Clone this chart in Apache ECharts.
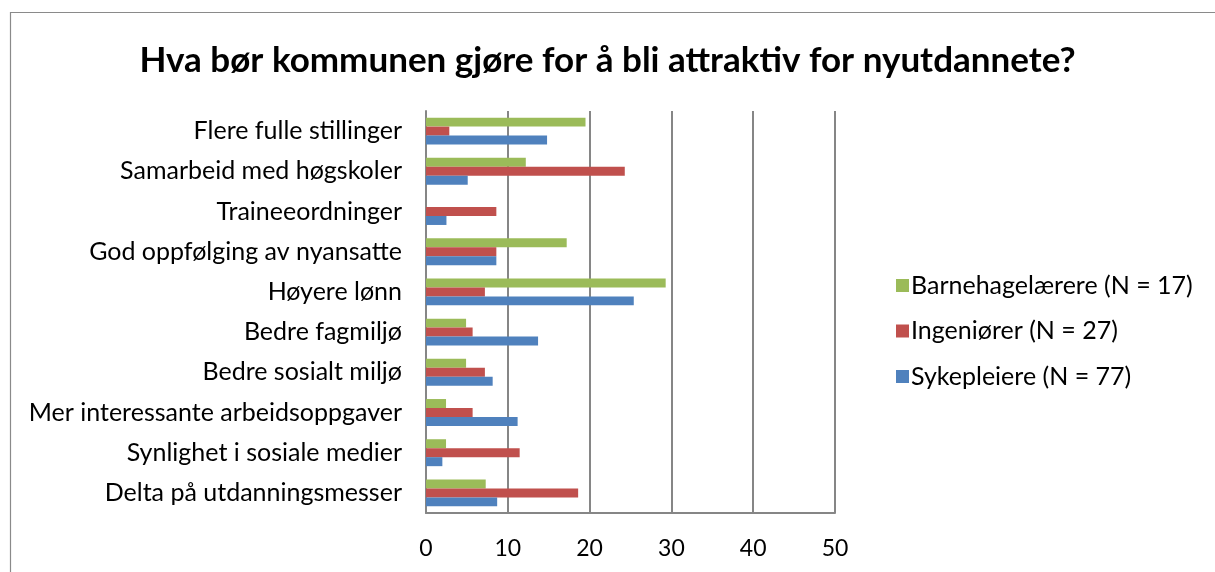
<!DOCTYPE html>
<html>
<head>
<meta charset="utf-8">
<script src="https://cdn.jsdelivr.net/npm/echarts@6/dist/echarts.min.js"></script>
<style>html,body{margin:0;padding:0;background:#fff;}#c{width:1215px;height:572px;}</style>
</head>
<body>
<div id="c"></div>
<script>
const title = 'Hva bør kommunen gjøre for å bli attraktiv for nyutdannete?';
const categories = [
  'Flere fulle stillinger',
  'Samarbeid med høgskoler',
  'Traineeordninger',
  'God oppfølging av nyansatte',
  'Høyere lønn',
  'Bedre fagmiljø',
  'Bedre sosialt miljø',
  'Mer interessante arbeidsoppgaver',
  'Synlighet i sosiale medier',
  'Delta på utdanningsmesser'
];
const seriesNames = ['Barnehagelærere (N = 17)', 'Ingeniører (N = 27)', 'Sykepleiere (N = 77)'];
const barnehage = [19.5, 12.2, 0, 17.2, 29.3, 4.9, 4.9, 2.45, 2.45, 7.3];
const ingenior  = [2.85, 24.3, 8.6, 8.6, 7.2, 5.7, 7.2, 5.7, 11.45, 18.6];
const sykepleie = [14.8, 5.1, 2.5, 8.6, 25.4, 13.7, 8.15, 11.2, 2.0, 8.7];
const xTicks = [0, 10, 20, 30, 40, 50];

const colors = ['#9bbb59', '#c0504d', '#4f81bd'];
const font = 'Lato, "Open Sans", sans-serif';
const chart = echarts.init(document.getElementById('c'));
const values = [barnehage, ingenior, sykepleie];
chart.setOption({
  animation: false,
  textStyle: { fontFamily: font },
  title: {
    text: title, left: 'center', top: 38,
    textStyle: { fontFamily: font, fontSize: 35, fontWeight: 'bold', color: '#000' }
  },
  graphic: [{
    type: 'rect', shape: { x: 10.5, y: 12.5, width: 1300, height: 700 },
    style: { fill: 'none', stroke: '#8a8a8a', lineWidth: 1.2 }, z: -1
  }],
  legend: {
    orient: 'vertical', left: 891, top: 268, itemGap: 20.5,
    itemWidth: 13, itemHeight: 13, icon: 'rect',
    textStyle: { fontFamily: font, fontSize: 25, color: '#000', padding: [0, 0, 0, -3] },
    data: seriesNames
  },
  grid: { left: 426, right: 380, top: 111, bottom: 59, containLabel: false },
  xAxis: {
    type: 'value', min: xTicks[0], max: xTicks[xTicks.length - 1], interval: 10,
    axisLine: { show: true, lineStyle: { color: '#868686', width: 2 } },
    axisTick: { show: false },
    axisLabel: { fontFamily: font, fontSize: 23, color: '#000', margin: 24 },
    splitLine: { show: true, lineStyle: { color: '#868686', width: 2 } }
  },
  yAxis: {
    type: 'category', inverse: true, data: categories,
    axisLine: { show: true, lineStyle: { color: '#868686', width: 2 } },
    axisTick: { show: false },
    axisLabel: { fontFamily: font, fontSize: 25, color: '#000', margin: 24 }
  },
  series: seriesNames.map((n, i) => ({
    name: n, type: 'bar', data: values[i],
    barGap: '0%', barCategoryGap: '33%',
    itemStyle: { color: colors[i] }
  }))
});
</script>
</body>
</html>
